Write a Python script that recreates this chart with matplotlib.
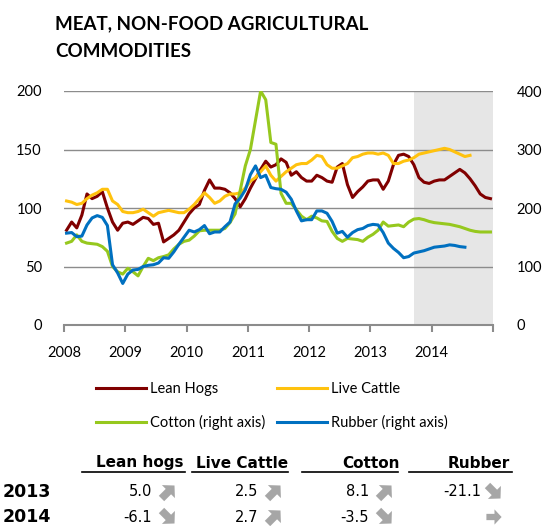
import math
import matplotlib
matplotlib.use('Agg')
import matplotlib.pyplot as plt
from matplotlib.lines import Line2D
from matplotlib.patches import Polygon

plt.rcParams['font.family'] = ['Lato', 'DejaVu Sans']

# monthly data, Jan 2008 onwards
lean_hogs = [81, 88, 83, 94, 112, 108, 110, 114, 100, 88, 81, 87, 88, 86, 89, 92, 91, 86, 87, 71,
             74, 77, 81, 88, 95, 100, 103, 115, 124, 117, 117, 116, 113, 108, 101, 108, 117, 125, 133, 140,
             135, 137, 142, 139, 128, 131, 126, 123, 123, 128, 126, 123, 122, 135, 138, 120, 109, 114, 118, 123,
             124, 124, 116, 123, 137, 145, 146, 144, 137, 126, 122, 121, 123, 124, 124, 127, 130, 133, 130, 125,
             119, 112, 109, 108]
live_cattle = [106, 105, 103, 104, 108, 111, 113, 116, 116, 106, 103, 97, 96, 96, 97, 99, 96, 93, 96, 97,
               98, 97, 96, 96, 99, 103, 108, 113, 109, 104, 106, 110, 112, 112, 113, 117, 123, 126, 131, 136,
               128, 123, 127, 131, 134, 137, 138, 138, 141, 145, 144, 137, 134, 134, 136, 138, 143, 144, 146, 147,
               147, 146, 147, 145, 138, 138, 140, 141, 143, 146, 147, 148, 149, 150, 151, 150, 148, 146, 144, 145]
cotton = [140, 143, 154, 143, 140, 139, 138, 134, 126, 100, 91, 87, 97, 91, 84, 100, 114, 110, 115, 117,
          120, 130, 138, 143, 145, 152, 161, 162, 162, 162, 162, 165, 175, 190, 230, 272, 300, 350, 400, 385,
          312, 309, 225, 208, 208, 197, 186, 180, 186, 183, 178, 177, 160, 148, 143, 148, 147, 146, 143, 150,
          155, 162, 176, 169, 170, 171, 168, 176, 181, 182, 180, 177, 175, 174, 173, 172, 170, 168, 165, 162,
          160, 159, 159, 159]
rubber = [157, 158, 151, 152, 171, 183, 187, 184, 170, 103, 89, 71, 87, 94, 95, 100, 102, 103, 106, 115,
          114, 125, 138, 150, 162, 159, 163, 170, 156, 159, 159, 168, 176, 207, 217, 231, 257, 272, 252, 256,
          235, 233, 232, 227, 215, 195, 178, 180, 180, 195, 195, 191, 177, 157, 160, 150, 158, 163, 165, 170,
          172, 171, 158, 140, 131, 124, 115, 117, 123, 125, 127, 130, 133, 134, 135, 137, 136, 134, 133]

years = [2008, 2009, 2010, 2011, 2012, 2013, 2014, 2015]
year_labels = ['2008', '2009', '2010', '2011', '2012', '2013', '2014', '']
forecast_start = 2013 + 8.6 / 12

table_cols = ['Lean hogs', 'Live Cattle', 'Cotton', 'Rubber']
table_rows = ['2013', '2014']
table_vals = [['5.0', '2.5', '8.1', '-21.1'],
              ['-6.1', '2.7', '-3.5', '']]
table_arrows = [['up', 'up', 'up', 'down'],
                ['down', 'up', 'down', 'flat']]


def months(values):
    return [2008 + (i + 0.5) / 12 for i in range(len(values))]


W, H = 549, 526
fig = plt.figure(figsize=(W / 100, H / 100), dpi=100)


def fx(px):
    return px / W


def fy(py):
    return 1 - py / H


def block_arrow(cx, cy, angle, size):
    # arrow shape in pixels, pointing right, then rotated (y grows downward)
    shape = [(-8, -3.3), (0.5, -3.3), (0.5, -8), (8, 0), (0.5, 8), (0.5, 3.3), (-8, 3.3)]
    a = math.radians(angle)
    pts = []
    for x, y in shape:
        x, y = x * size, y * size
        rx = x * math.cos(a) - y * math.sin(a)
        ry = x * math.sin(a) + y * math.cos(a)
        pts.append((fx(cx + rx), fy(cy + ry)))
    fig.add_artist(Polygon(pts, closed=True, transform=fig.transFigure,
                           facecolor='#a6a6a6', edgecolor='none'))


ax = fig.add_axes([fx(64), fy(325), fx(493) - fx(64), fy(91) - fy(325)])
ax2 = ax.twinx()

ax.axvspan(forecast_start, 2015, color='#e6e6e6', lw=0, zorder=0)
for g in [50, 100, 150, 200]:
    ax.axhline(g, color='#8c8c8c', lw=1.0, zorder=1)

hogs_line, = ax.plot(months(lean_hogs), lean_hogs, color='#800000', lw=2.2, zorder=3)
cattle_line, = ax.plot(months(live_cattle), live_cattle, color='#ffc20e', lw=2.2, zorder=3)
cotton_line, = ax2.plot(months(cotton), cotton, color='#96c81e', lw=2.2)
rubber_line, = ax2.plot(months(rubber), rubber, color='#0070c0', lw=2.2)

ax.set_xlim(2008, 2015)
ax.set_ylim(0, 200)
ax2.set_ylim(0, 400)
ax.set_yticks([0, 50, 100, 150, 200])
ax2.set_yticks([0, 100, 200, 300, 400])
ax.set_xticks(years)
ax.set_xticklabels(year_labels)

for a in (ax, ax2):
    for s in ['top', 'left', 'right', 'bottom']:
        a.spines[s].set_visible(False)
ax.spines['bottom'].set_visible(True)
ax.spines['bottom'].set_color('#8c8c8c')
ax.spines['bottom'].set_linewidth(1.5)

ax.tick_params(axis='x', direction='out', length=5, width=1.5, color='#8c8c8c',
               labelsize=10.5, pad=10)
ax.tick_params(axis='y', length=0, labelsize=10.5, pad=16)
ax2.tick_params(axis='y', length=0, labelsize=10.5, pad=17)

fig.text(fx(55), fy(29), 'MEAT, NON-FOOD AGRICULTURAL', fontsize=13.5,
         fontweight='bold', va='baseline', ha='left')
fig.text(fx(55), fy(57), 'COMMODITIES', fontsize=13.5,
         fontweight='bold', va='baseline', ha='left')

fig.legend([hogs_line, cotton_line, cattle_line, rubber_line],
           ['Lean Hogs', 'Cotton (right axis)', 'Live Cattle', 'Rubber (right axis)'],
           ncol=2, loc='center', bbox_to_anchor=(fx(272), fy(406)), frameon=False,
           fontsize=10.5, handlelength=3.4, handletextpad=0.3, columnspacing=0.8,
           labelspacing=1.3)

# summary table
col_right = [184, 288, 400, 510]
col_lines = [(82, 185), (192, 288), (302, 398), (409, 512)]
val_right = [152, 258, 369, 481]
arrow_x = [168, 274, 385, 494]
row_y = [492, 517]
arrow_angle = {'up': -45, 'down': 45, 'flat': 0}

for name, xr in zip(table_cols, col_right):
    fig.text(fx(xr), fy(463), name, fontsize=11, fontweight='bold', ha='right', va='center',
             family='DejaVu Sans')
for x0, x1 in col_lines:
    fig.add_artist(Line2D([fx(x0), fx(x1)], [fy(472), fy(472)], color='black', lw=1.2))
for r, label in enumerate(table_rows):
    fig.text(fx(3), fy(row_y[r]), label, fontsize=12.5, fontweight='bold', ha='left',
             va='center', family='DejaVu Sans')
    for c in range(len(table_cols)):
        if table_vals[r][c]:
            fig.text(fx(val_right[c]), fy(row_y[r]), table_vals[r][c], fontsize=10.5,
                     ha='right', va='center', family='DejaVu Sans')
        kind = table_arrows[r][c]
        block_arrow(arrow_x[c], row_y[r], arrow_angle[kind], 1.15 if kind != 'flat' else 0.95)

fig.savefig('out.png', dpi=100)
